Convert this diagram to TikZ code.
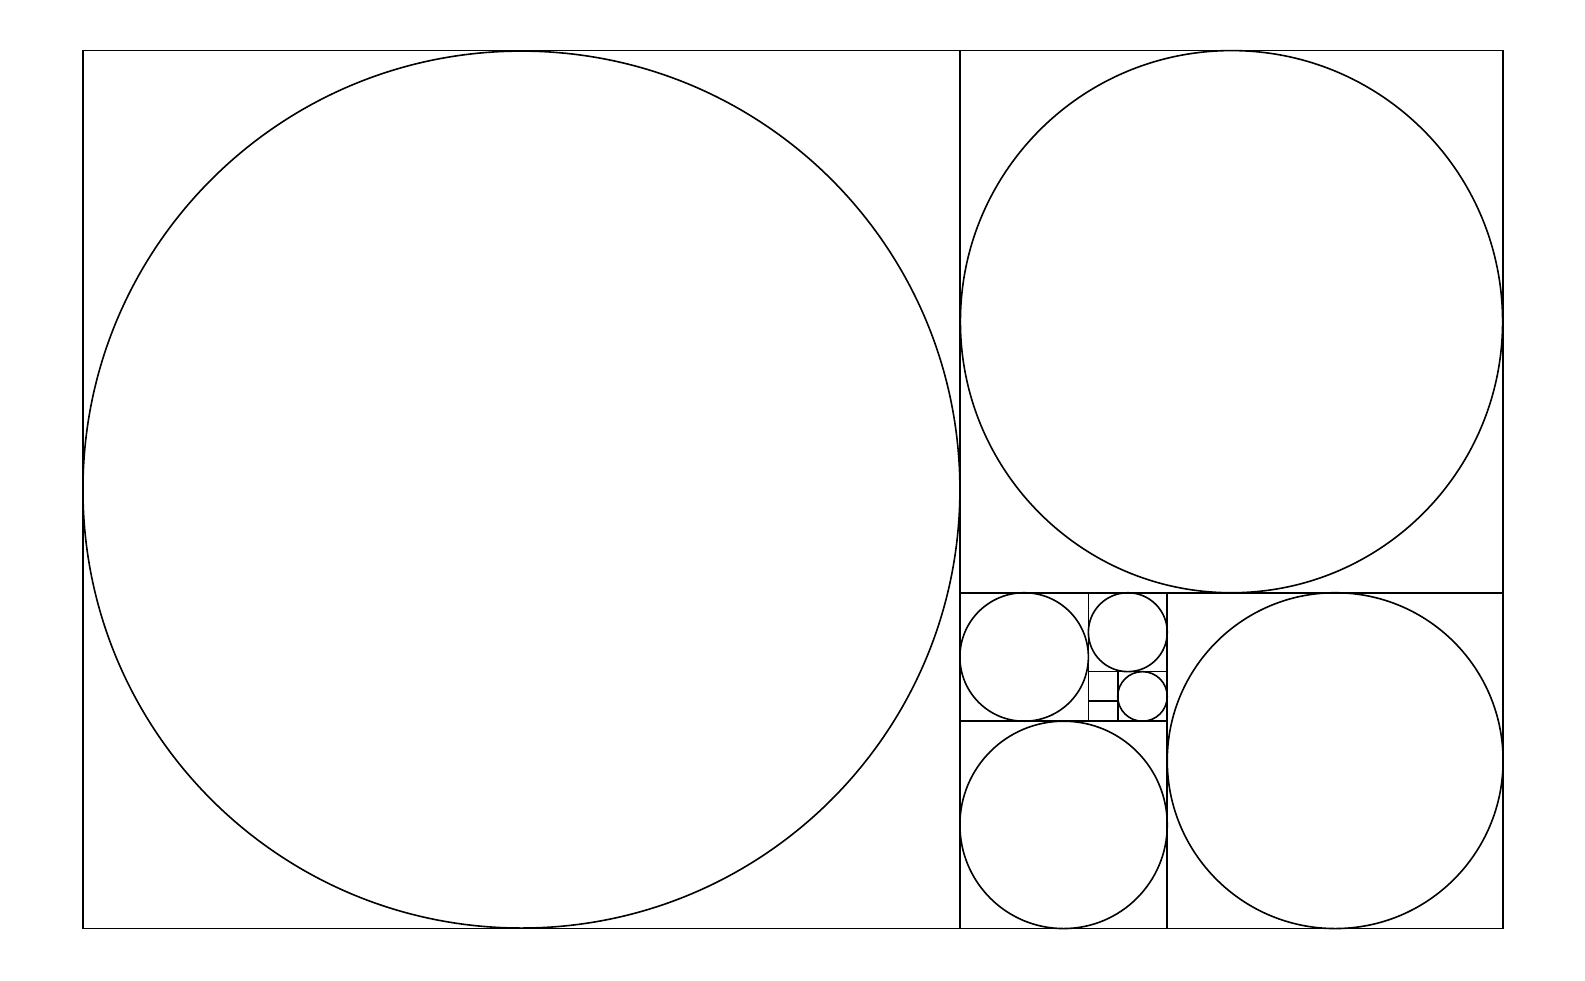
\documentclass[tikz,border=0pt]{standalone}
\usepackage{tikz}

\begin{document}
\begin{tikzpicture}[x=.01cm,y=-.01cm,line width=.45pt]
			\useasboundingbox (0,0) rectangle (1567,969);
			
			\draw (82,50) rectangle (1486,918);
			
			\draw (949,50) -- (949,918);      \draw (515.5,484) circle (433.5);
			\draw (949,586) -- (1486,586);    \draw (1217.5,318) circle (268);
			\draw (1154,586) -- (1154,918);   \draw (1320,752) circle (166);
			\draw (949,713) -- (1154,713);    \draw (1051.5,815.5) circle (102.5);
			\draw (1076,586) -- (1076,713);   \draw (1012.5,649.5) circle (63.5);
			\draw (1076,664) -- (1154,664);   \draw (1115,625) circle (39);
			\draw (1105,664) -- (1105,713);   \draw (1129.5,688.5) circle (24.5);
			\draw (1076,693) -- (1105,693);
			\end{tikzpicture}
\end{document}
